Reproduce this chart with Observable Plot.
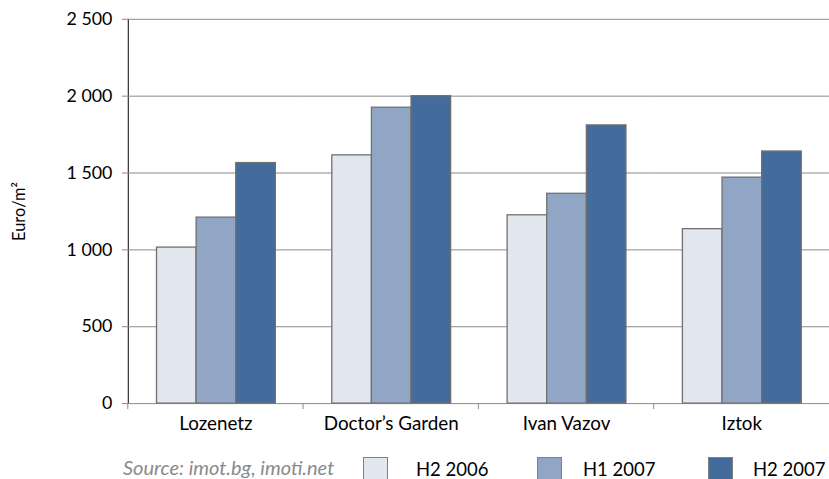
<!DOCTYPE html>
<html>
<head>
<meta charset="utf-8">
<script src="https://cdn.jsdelivr.net/npm/d3@7"></script>
<script src="https://cdn.jsdelivr.net/npm/@observablehq/plot@0.6"></script>
<style>
  html, body { margin: 0; padding: 0; background: #fff; overflow: hidden; }
  #wrap { width: 829px; overflow: hidden; font-family: "Lato", sans-serif; }
  #chart svg { display: block; }
  #chart g[aria-label*="axis"] path, #chart g[aria-label*="axis"] line { stroke: #8a8a8a; }
  #chart g[aria-label^="fx-axis"] { font-size: 19px; }
  #chart g[aria-label="y-axis tick label"] { font-size: 18px; }
  #chart g[aria-label="y-axis label"], #chart g[aria-label="y-axis label"] text { font-size: 16.5px !important; }
  #legend { position: relative; width: 829px; height: 31px; overflow: hidden; font-size: 18.5px; }
  #legend .src { position: absolute; left: 123px; top: 7px; font-style: italic; font-size: 20px; color: #8a8a8a; white-space: nowrap; }
  #legend .sw { position: absolute; top: 9px; width: 23px; height: 30px; border: 1.5px solid #808080; box-sizing: content-box; }
  #legend .lab { position: absolute; top: 10px; color: #000; white-space: nowrap; }
</style>
</head>
<body>
<div id="wrap">
  <div id="chart"></div>
  <div id="legend"></div>
</div>
<script>
const categories = ["Lozenetz", "Doctor’s Garden", "Ivan Vazov", "Iztok"];
const series = ["H2 2006", "H1 2007", "H2 2007"];
const h2_2006 = [1015, 1615, 1225, 1135];
const h1_2007 = [1210, 1925, 1365, 1470];
const h2_2007 = [1565, 2000, 1810, 1640];
const yTicks = [0, 500, 1000, 1500, 2000, 2500];
const colors = ["#E1E6EF", "#91A5C5", "#436B9B"];
const sourceText = "Source: imot.bg, imoti.net";
const yLabel = "Euro/m²";

const seriesValues = [h2_2006, h1_2007, h2_2007];
const data = categories.flatMap((c, i) =>
  series.map((s, j) => ({category: c, series: s, value: seriesValues[j][i]}))
);

const fmt = d => d3.format(",")(d).replace(/,/g, " ");

// band-boundary tick marks on the category axis
const boundaryTicks = (index, scales, values, dimensions) => {
  const g = d3.create("svg:g");
  const x0 = scales.x && scales.x.range ? scales.x.range()[0] : dimensions.marginLeft;
  const y0 = scales.y(0);
  g.append("line")
    .attr("x1", x0).attr("x2", x0)
    .attr("y1", y0).attr("y2", y0 + 6)
    .attr("stroke", "#8a8a8a");
  return g.node();
};

const chart = Plot.plot({
  width: 837,
  height: 452,
  marginTop: 19,
  marginBottom: 45,
  marginLeft: 128,
  marginRight: 0,
  style: {fontFamily: "Lato, sans-serif", fontSize: "17px", color: "#000", background: "#fff", overflow: "visible"},
  fx: {domain: categories, padding: 0, label: null, tickSize: 0, tickPadding: 13, axis: "bottom"},
  x: {domain: series, paddingInner: 0, paddingOuter: 0.71, axis: null},
  y: {domain: [0, 2500], ticks: yTicks, tickFormat: fmt, tickSize: 6, tickPadding: 10, line: true,
      label: yLabel, labelAnchor: "center", labelOffset: 116, labelArrow: false},
  color: {domain: series, range: colors},
  marks: [
    Plot.ruleY(yTicks, {stroke: "#8a8a8a", strokeWidth: 1}),
    Plot.barY(data, {fx: "category", x: "series", y: "value", fill: "series", stroke: "#707070", strokeWidth: 1.3}),
    boundaryTicks
  ]
});
document.getElementById("chart").appendChild(chart);

// HTML legend
const legend = d3.select("#legend");
legend.append("div").attr("class", "src").text(sourceText);
const swLeft = [363, 537, 708];
const labLeft = [416, 583, 753];
series.forEach((s, i) => {
  legend.append("div").attr("class", "sw").style("left", swLeft[i] + "px").style("background", colors[i]);
  legend.append("div").attr("class", "lab").style("left", labLeft[i] + "px").text(s);
});
</script>
</body>
</html>
